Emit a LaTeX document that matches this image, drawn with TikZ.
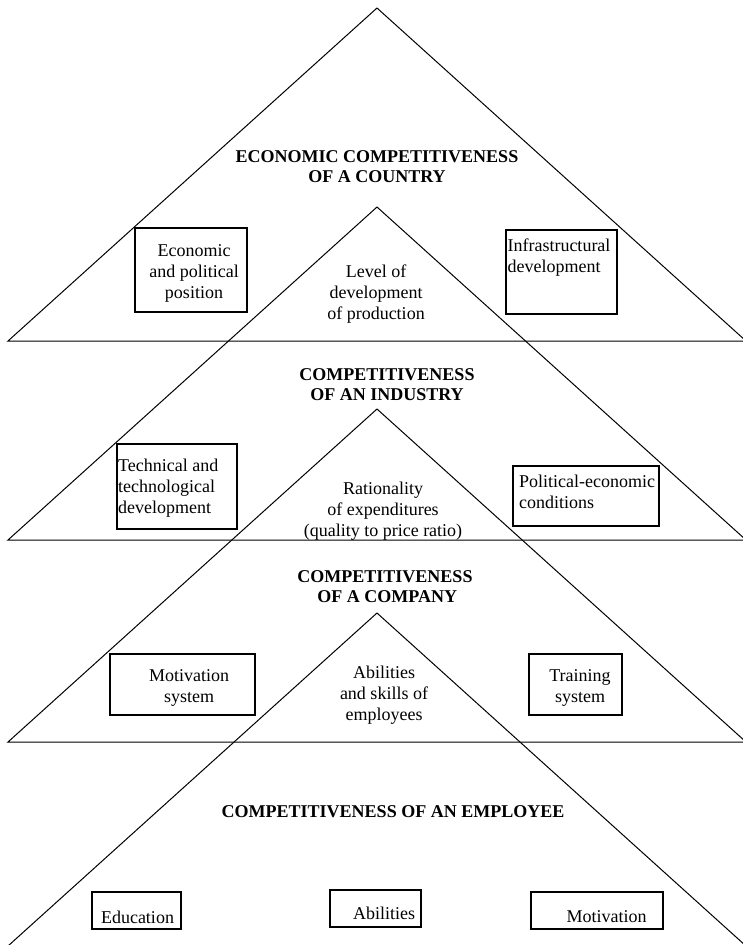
\documentclass[tikz,border=0pt]{standalone}
\usepackage{fontspec}
\setmainfont{Liberation Serif}
\usetikzlibrary{positioning}

\begin{document}
\begin{tikzpicture}[x=1pt,y=-1pt,
    tri/.style={line width=1pt},
    box/.style={draw,line width=1.2pt,inner sep=0pt},
    txt/.style={inner sep=0pt,align=center,font=\fontsize{18}{21}\selectfont},
    head/.style={txt,font=\fontsize{18}{20}\selectfont\bfseries}]
            \useasboundingbox (0,0) rectangle (743,945);

            % the four triangles, one under the other
            \foreach \ty in {8,207,409}
                \draw[tri] (8,\ty+333) -- (377,\ty) -- (746,\ty+333) -- cycle;
            \draw[tri] (8,946) -- (377,613) -- (746,946);

            % country
            \node[head] (country) at (377,167) {ECONOMIC COMPETITIVENESS\\OF A COUNTRY};
            \node[box,minimum width=112,minimum height=84] (econbox) at (191,270) {};
            \node[txt] (econ) at (194,273) {Economic\\and political\\position};
            \node[box,minimum width=111,minimum height=84] (infrabox) at (561.5,272) {};
            \node[txt,align=left] (infra) at (559,258) {Infrastructural\\development};
            \node[txt] (production) at (376,294) {Level of\\development\\of production};

            % industry
            \node[head] (industry) at (387,385) {COMPETITIVENESS\\OF AN INDUSTRY};
            \node[box,minimum width=120,minimum height=85] (techbox) at (177,486.5) {};
            \node[txt,align=left,anchor=west] (tech) at (118,488) {Technical and\\technological\\development};
            \node[box,minimum width=146,minimum height=60] (polbox) at (586,496) {};
            \node[txt,align=left,anchor=west] (pol) at (519,492) {Political-economic\\conditions};
            \node[txt] (expend) at (383,511) {Rationality\\of expenditures\\(quality to price ratio)};

            % company
            \node[head] (company) at (385,587) {COMPETITIVENESS\\\ OF A COMPANY};
            \node[box,minimum width=145,minimum height=61] (motbox) at (182.5,684.5) {};
            \node[txt] (motsys) at (189,688) {Motivation\\system};
            \node[box,minimum width=93,minimum height=61] (trainbox) at (575.5,684.5) {};
            \node[txt] (train) at (580,688) {Training\\system};
            \node[txt] (skills) at (384,695) {Abilities\\and skills of\\employees};

            % employee
            \node[head] (employee) at (393,812) {COMPETITIVENESS OF AN EMPLOYEE};
            \node[box,minimum width=89,minimum height=37] (edubox) at (136.5,910.5) {};
            \node[txt] (edu) at (137.5,917) {Education};
            \node[box,minimum width=91,minimum height=37] (abilbox) at (375.5,908.5) {};
            \node[txt] (abil) at (384,913) {Abilities};
            \node[box,minimum width=132,minimum height=37] (motivbox) at (597,910.5) {};
            \node[txt] (motiv) at (606.5,917) {Motivation};
\end{tikzpicture}
\end{document}
